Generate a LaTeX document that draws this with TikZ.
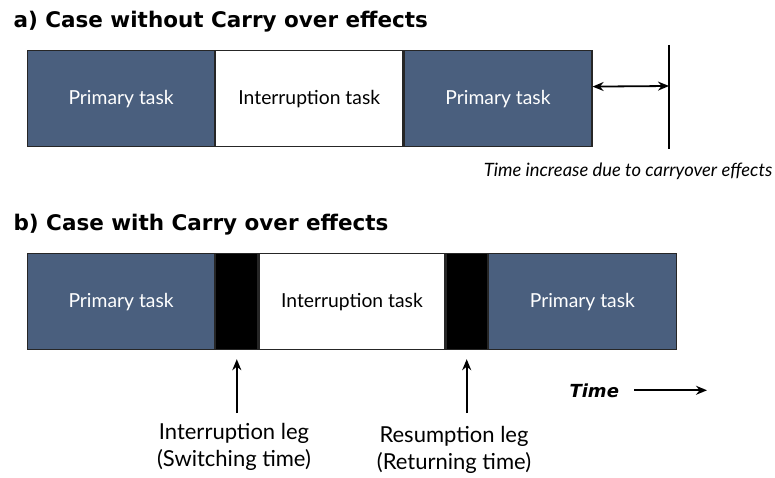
\documentclass[tikz,border=0pt]{standalone}
\usepackage{fontspec}
\setmainfont{Lato}
\newfontfamily\headfont{DejaVu Sans}
\usetikzlibrary{arrows.meta}
\definecolor{slate}{RGB}{74,95,126}

\begin{document}
\begin{tikzpicture}[x=1pt,y=-1pt,
	task/.style={draw=black!85,line width=1.2pt,minimum height=96pt,inner sep=0pt,anchor=north west,font=\fontsize{19.3}{22}\selectfont},
	primary/.style={task,fill=slate,text=white},
	leg/.style={task,fill=black},
	tip/.style={-{Stealth[length=11pt,width=9pt]},line width=1.8pt},
	heading/.style={anchor=base west,font=\headfont\bfseries\fontsize{21.5}{25}\selectfont},
	legnote/.style={anchor=base,align=center,font=\fontsize{22}{27}\selectfont}]
	\useasboundingbox (0,0) rectangle (775,478);
	% a) without carry over
	\node[heading] (titlea) at (10,28) {a) Case without Carry over effects};
	\node[primary,minimum width=187pt] (prim1a) at (27,50) {Primary task};
	\node[task,minimum width=187pt] (inta) at (prim1a.north east) {Interruption task};
	\node[primary,minimum width=188pt] (prim2a) at (inta.north east) {Primary task};
	\coordinate (marktop) at (669,45);
	\coordinate (markbot) at (669,149);
	\coordinate (markmid) at (669,86);
	\draw[line width=2.2pt] (marktop)--(markbot);
	\draw[{Stealth[length=11pt,width=9pt]}-{Stealth[length=11pt,width=9pt]},line width=1.8pt] ([yshift=12pt]prim2a.east)--(markmid);
	\node[anchor=base,font=\itshape\fontsize{18.4}{22}\selectfont] (carrylabel) at (628,177) {Time increase due to carryover effects};
	% b) with carry over
	\node[heading] (titleb) at (10,230) {b) Case with Carry over effects};
	\node[primary,minimum width=187pt] (prim1b) at (27,253) {Primary task};
	\node[leg,minimum width=42pt] (leg1) at (prim1b.north east) {};
	\node[task,minimum width=186pt] (intb) at (leg1.north east) {Interruption task};
	\node[leg,minimum width=41pt] (leg2) at (intb.north east) {};
	\node[primary,minimum width=188pt] (prim2b) at (leg2.north east) {Primary task};
	\node[legnote] (intleg) at (234,466) {Interruption leg\\(Switching time)};
	\node[legnote] (resleg) at (454,469) {Resumption leg\\(Returning time)};
	\draw[tip] ([yshift=-63pt]leg1.south)--([yshift=-9pt]leg1.south);
	\draw[tip] ([yshift=-63pt]leg2.south)--([yshift=-9pt]leg2.south);
	\node[anchor=base west,font=\headfont\bfseries\itshape\fontsize{18}{22}\selectfont] (timelabel) at (566,397) {Time};
	\coordinate (timeend) at (707,388);
	\draw[tip] ([xshift=12pt]timelabel.east)--(timelabel.east -| timeend);
\end{tikzpicture}
\end{document}
